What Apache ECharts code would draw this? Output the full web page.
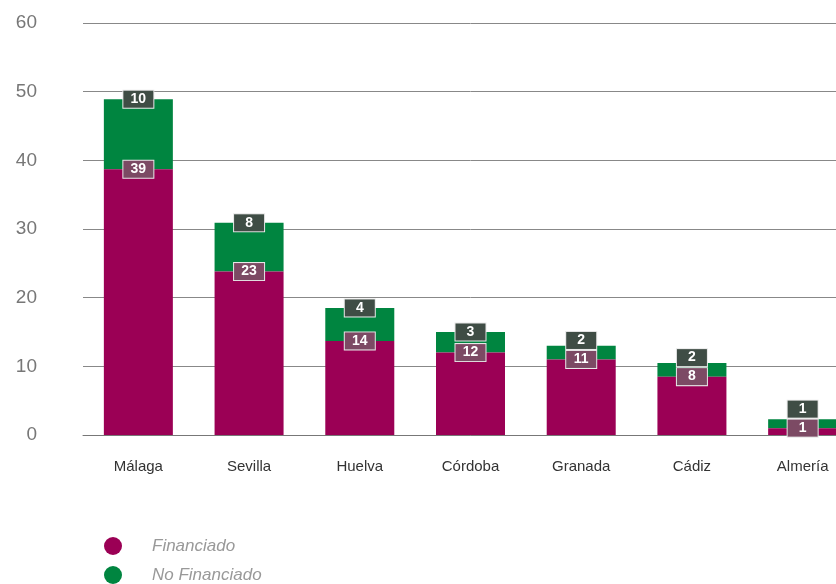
<!DOCTYPE html>
<html><head><meta charset="utf-8">
<script src="https://cdn.jsdelivr.net/npm/echarts@6/dist/echarts.min.js"></script>
<style>html,body{margin:0;padding:0;background:#fff;overflow:hidden}#c{width:858px;height:584px}</style>
</head><body><div id="c"></div>
<script>
var categories = ['Málaga','Sevilla','Huelva','Córdoba','Granada','Cádiz','Almería'];
var financiado = [38.7, 23.8, 13.7, 12.0, 11.0, 8.5, 1.0];
var noFinanciado = [10.2, 7.1, 4.8, 3.0, 2.0, 2.0, 1.3];
var financiadoLabels = ['39','23','14','12','11','8','1'];
var noFinanciadoLabels = ['10','8','4','3','2','2','1'];
var yTicks = [0,10,20,30,40,50,60];

function lbl(arr, bg){
  return {
    show: true, position: ['50%', 0], align: 'center', verticalAlign: 'middle',
    formatter: function(p){ return arr[p.dataIndex]; },
    color: '#fff', fontSize: 14, fontWeight: 'bold', fontFamily: 'Liberation Sans, Arial',
    backgroundColor: bg, borderColor: '#e8e8e8', borderWidth: 1,
    padding: [1, 6, 0, 6], width: 18, height: 16, lineHeight: 16
  };
}

var chart = echarts.init(document.getElementById('c'));
chart.setOption({
  animation: false,
  grid: { left: 83, top: 23, right: 0, bottom: 149, containLabel: false },
  legend: {
    orient: 'vertical', left: 104, top: 537, itemGap: 11, padding: 0,
    icon: 'circle', itemWidth: 18, itemHeight: 18,
    textStyle: { color: '#999', fontStyle: 'italic', fontSize: 17, fontFamily: 'Liberation Sans, Arial', padding: [0,0,0,25] },
    data: ['Financiado','No Financiado']
  },
  xAxis: {
    type: 'category', data: categories,
    axisTick: { show: false },
    axisLine: { lineStyle: { color: '#777', width: 1 } },
    axisLabel: { color: '#333', fontSize: 15, margin: 24, fontFamily: 'Liberation Sans, Arial' }
  },
  yAxis: {
    type: 'value', min: yTicks[0], max: yTicks[yTicks.length-1], interval: 10,
    axisLine: { show: false }, axisTick: { show: false },
    splitLine: { lineStyle: { color: '#888', width: 1 } },
    axisLabel: { color: '#777', fontSize: 19, margin: 46, padding: [3,0,0,0], fontFamily: 'Liberation Sans, Arial' }
  },
  series: [
    { name: 'Financiado', type: 'bar', stack: 't', barWidth: 69, data: financiado,
      itemStyle: { color: '#9b0055' }, label: lbl(financiadoLabels, '#7c4a64'), z: 3 },
    { name: 'No Financiado', type: 'bar', stack: 't', barWidth: 69, data: noFinanciado,
      itemStyle: { color: '#008540' }, label: lbl(noFinanciadoLabels, '#3f4d45'),
      labelLayout: function(p){ var h = p.rect.height; return h < 19 ? { dy: -(19 - h) } : {}; }, z: 2 }
  ]
});
</script></body></html>
